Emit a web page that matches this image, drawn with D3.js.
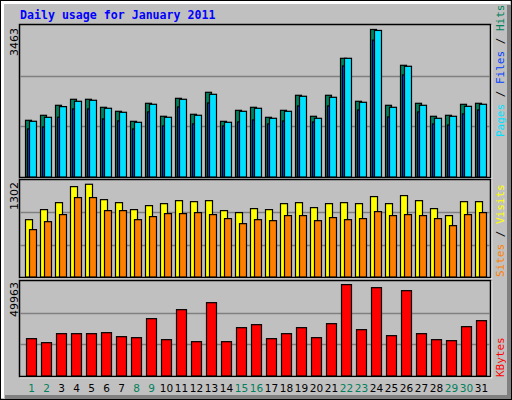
<!DOCTYPE html>
<html><head><meta charset="utf-8">
<script src="https://cdn.jsdelivr.net/npm/d3@7/dist/d3.min.js"></script>
<style>body{margin:0;background:#fff}</style></head>
<body><svg id="c" width="512" height="400"></svg>
<script>
const days = d3.range(1,32);
const weekendDays = [1,2,8,9,15,16,22,23,29,30];
const hits  = [1331,1448,1683,1824,1824,1636,1542,1307,1730,1425,1847,1472,1988,1307,1565,1636,1401,1565,1918,1425,1918,2786,1777,3463,1683,2622,1730,1425,1448,1706,1730];
const files = [1128,1175,1402,1598,1598,1363,1316,1127,1527,1198,1644,1246,1738,1198,1292,1339,1245,1315,1668,1292,1668,2606,1574,3213,1410,2396,1527,1245,1221,1480,1574];
const pages = [1308,1401,1652,1777,1801,1613,1519,1284,1707,1402,1824,1449,1941,1284,1542,1613,1378,1542,1895,1378,1871,2786,1754,3440,1636,2599,1683,1378,1425,1659,1707];
const visits= [805,946,1044,1269,1302,1086,1044,946,1002,1030,1072,1058,1072,932,904,960,946,1030,1044,974,1030,1044,1030,1129,1030,1143,1072,960,862,1058,1058];
const sites = [665,777,876,1115,1115,932,932,805,848,890,890,904,876,820,749,805,791,862,862,791,834,805,820,918,862,876,862,820,721,876,904];
const kbytes= [20406,18220,23139,23139,23139,23686,21500,20953,31338,19860,36258,18767,40084,18767,26419,28059,20406,23139,26419,20953,28605,49963,25326,48283,22046,46643,23139,19860,19313,26966,30245];
const maxLabels = ["3463","1302","49963"];

const svg = d3.select("#c");
svg.append("rect").attr("x",0.5).attr("y",0.5).attr("width",511).attr("height",399).attr("fill","#c0c0c0").attr("stroke","#000");
svg.append("rect").attr("x",1).attr("y",1).attr("width",3).attr("height",397).attr("fill","#fff");
svg.append("rect").attr("x",1).attr("y",1).attr("width",509).attr("height",3).attr("fill","#fff");
svg.append("rect").attr("x",507).attr("y",5).attr("width",4).attr("height",394).attr("fill","#808080");
svg.append("rect").attr("x",5).attr("y",395).attr("width",506).attr("height",4).attr("fill","#808080");

svg.append("text").attr("x",20).attr("y",19).text("Daily usage for January 2011")
  .attr("font-family","DejaVu Sans Mono").attr("font-weight","bold").attr("font-size",11.6).attr("fill","#0000ff");

const x = d3.scaleBand().domain(days).range([25,490]).paddingInner(0).paddingOuter(0);

function panel(top,bottom,max){
  svg.append("rect").attr("x",20.5).attr("y",top+0.5).attr("width",471).attr("height",bottom-top+1).attr("fill","none").attr("stroke","#fff").attr("stroke-width",1.5);
  svg.append("rect").attr("x",19.5).attr("y",top-0.5).attr("width",471).attr("height",bottom-top+1).attr("fill","#c0c0c0").attr("stroke","#000").attr("stroke-width",1.5);
  const y = d3.scaleLinear().domain([0,max]).range([bottom,top]);
  const g = svg.append("g");
  [max/3, max*2/3].forEach(v=>{
    g.append("line").attr("x1",20).attr("x2",490).attr("y1",Math.round(y(v))+0.5).attr("y2",Math.round(y(v))+0.5).attr("stroke","#808080").attr("stroke-width",1.5);
  });
  return y;
}
function bars(y,data,off,w,color){
  svg.append("g").selectAll("rect").data(data).join("rect")
    .attr("x",(d,i)=>x(days[i])+off+0.5).attr("y",d=>y(d)).attr("width",w)
    .attr("height",d=>y(0)-y(d)).attr("fill",color).attr("stroke","#000").attr("stroke-width",1.2);
}
const y1 = panel(25,177,3568);
bars(y1,hits,0,6,"#00805c");
bars(y1,files,2,6,"#0040ff");
bars(y1,pages,4,7,"#00e0ff");
const y2 = panel(180,277,1362);
bars(y2,visits,0,7,"#ffff00");
bars(y2,sites,4,7,"#ff8000");
const y3 = panel(281,376,51930);
bars(y3,kbytes,1,10,"#ff0000");

[[28,0],[182,1],[282,2]].forEach(([yy,i])=>{
  svg.append("text").attr("transform",`translate(18,${yy}) rotate(-90)`).attr("text-anchor","end")
    .attr("font-family","DejaVu Sans").attr("font-size",11).attr("fill","#000").text(maxLabels[i]);
});
function legend(yy,parts){
  const t = svg.append("text").attr("transform",`translate(504,${yy}) rotate(-90)`)
    .attr("font-family","DejaVu Sans Mono").attr("font-size",11);
  parts.forEach(([s,c])=>t.append("tspan").attr("fill",c).text(s));
}
legend(137,[["Pages","#00e0ff"],[" / ","#000"],["Files","#0040ff"],[" / ","#000"],["Hits","#00805c"]]);
legend(277,[["Sites","#ff8000"],[" / ","#000"],["Visits","#ffff00"]]);
legend(377,[["KBytes","#ff0000"]]);

svg.append("g").selectAll("text").data(days).join("text")
  .attr("x",d=>x(d)+x.bandwidth()/2-1).attr("y",392).attr("text-anchor","middle")
  .attr("font-family","DejaVu Sans").attr("font-size",10.5)
  .attr("fill",d=>weekendDays.includes(d)?"#00805c":"#000").text(d=>d);
</script></body></html>
